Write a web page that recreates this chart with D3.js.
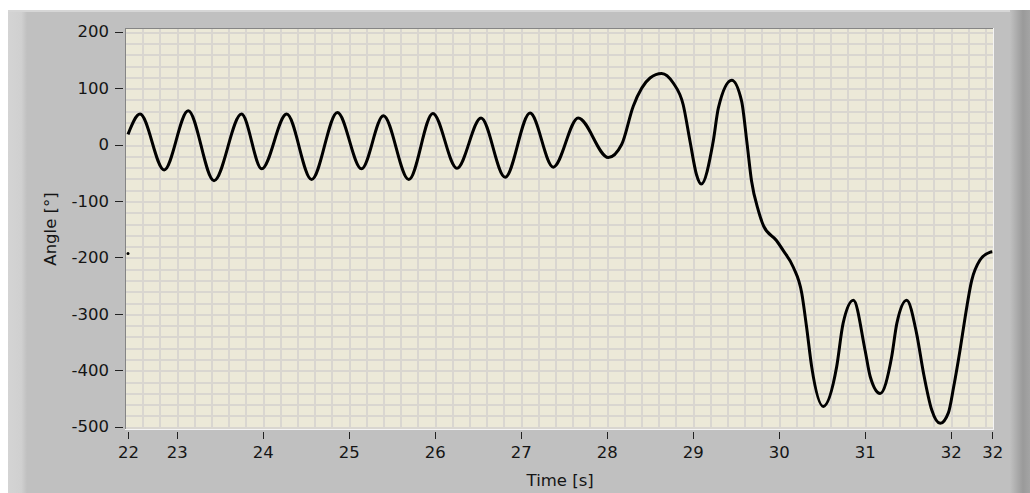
<!DOCTYPE html>
<html>
<head>
<meta charset="utf-8">
<script src="https://cdn.jsdelivr.net/npm/d3@7"></script>
<style>
  body { margin: 0; background: #ffffff; }
  svg text { font-family: "DejaVu Sans", sans-serif; font-size: 16.5px; fill: #151515; }
</style>
</head>
<body>
<div id="chart"></div>
<script>
// Values
var timeValues = [22.00, 22.14, 22.42, 22.70, 23.00, 23.32, 23.555, 23.845, 24.135, 24.435,
  24.715, 24.97, 25.265, 25.545, 25.825, 26.105, 26.385, 26.675, 26.945, 27.235,
  27.585, 27.74, 27.875, 28.07, 28.205, 28.34, 28.455, 28.535, 28.61, 28.665,
  28.805, 28.865, 29.02, 29.135, 29.195, 29.25, 29.33, 29.39, 29.54, 29.62,
  29.735, 29.835, 29.89, 29.95, 30.085, 30.24, 30.315, 30.435, 30.57, 30.63,
  30.745, 30.88, 30.94, 31.055, 31.17, 31.25, 31.345, 31.445, 31.54, 31.60,
  31.675, 31.735, 31.81, 31.905, 32.02, 32.05];
var angleValues = [18, 54, -45, 60, -64, 54, -43, 54, -62, 57,
  -43, 51, -62, 55, -42, 47, -58, 56, -40, 47,
  -23, 0, 68, 118, 126, 109, 71, 6, -53, -70,
  6, 65, 114, 77, 6, -64, -117, -144, -170, -188,
  -217, -264, -323, -394, -464, -394, -317, -276, -364, -411,
  -441, -376, -317, -276, -335, -405, -470, -494, -475, -430,
  -364, -305, -241, -205, -191, -190];

// lone point drawn at the left edge of the plot
var strayTime = [22.0];
var strayAngle = [-193];

var xTickValues = [22, 22.566, 23.566, 24.566, 25.566, 26.566, 27.566, 28.566, 29.566, 30.566, 31.566, 32.05];
var xTickLabels = ["22", "23", "24", "25", "26", "27", "28", "29", "30", "31", "32", "32"];
var yTickValues = [200, 100, 0, -100, -200, -300, -400, -500];
var yTickLabels = ["200", "100", "0", "-100", "-200", "-300", "-400", "-500"];

var svgWidth = 1030;
var svgHeight = 493;

// plot area in pixels
var plot = { left: 126, right: 993, top: 29, bottom: 429 };

var svg = d3.select("#chart")
  .append("svg")
  .attr("width", svgWidth)
  .attr("height", svgHeight);

var defs = svg.append("defs");
var rightGrad = defs.append("linearGradient").attr("id", "rightEdge");
rightGrad.append("stop").attr("offset", "0%").attr("stop-color", "#c0c0c0");
rightGrad.append("stop").attr("offset", "65%").attr("stop-color", "#9a9a9a");
rightGrad.append("stop").attr("offset", "100%").attr("stop-color", "#a4a4a4");
var leftGrad = defs.append("linearGradient").attr("id", "leftEdge");
leftGrad.append("stop").attr("offset", "0%").attr("stop-color", "#d4d4d4");
leftGrad.append("stop").attr("offset", "70%").attr("stop-color", "#d0d0d0");
leftGrad.append("stop").attr("offset", "100%").attr("stop-color", "#c0c0c0");

defs.append("clipPath").attr("id", "plotClip")
  .append("rect")
  .attr("x", plot.left)
  .attr("y", plot.top)
  .attr("width", plot.right - plot.left)
  .attr("height", plot.bottom - plot.top);

// panel background
svg.append("rect").attr("x", 8).attr("y", 10).attr("width", svgWidth - 8).attr("height", svgHeight - 10)
  .attr("fill", "#c0c0c0");
svg.append("rect").attr("x", 8).attr("y", 10).attr("width", 19).attr("height", svgHeight - 10)
  .attr("fill", "url(#leftEdge)");
svg.append("rect").attr("x", 8).attr("y", 10).attr("width", svgWidth - 8).attr("height", 2)
  .attr("fill", "#d6d6d6");
svg.append("rect").attr("x", 1010).attr("y", 10).attr("width", 20).attr("height", svgHeight - 10)
  .attr("fill", "url(#rightEdge)");

// scales
var xScale = d3.scaleLinear()
  .domain([22, 32.05])
  .range([128, 992.3]);

var yScale = d3.scaleLinear()
  .domain([-500, 200])
  .range([426.7, 31.7]);

// plot background
svg.append("rect")
  .attr("x", plot.left)
  .attr("y", plot.top)
  .attr("width", plot.right - plot.left)
  .attr("height", plot.bottom - plot.top)
  .attr("fill", "#ece9d8");

// grid: minor every 0.2 s aligned with ticks, every 20 degrees
var xGrid = d3.range(-3, 50).map(k => xTickValues[1] + k * 0.2)
  .filter(v => xScale(v) > plot.left + 1 && xScale(v) < plot.right - 1);
var yGrid = d3.range(-500, 201, 20);

var gridGroup = svg.append("g").attr("shape-rendering", "crispEdges");
gridGroup.selectAll(".vgrid")
  .data(xGrid)
  .enter()
  .append("line")
  .attr("x1", d => Math.round(xScale(d)) + 0.5)
  .attr("x2", d => Math.round(xScale(d)) + 0.5)
  .attr("y1", plot.top)
  .attr("y2", plot.bottom)
  .attr("stroke", "#d9d6d0")
  .attr("stroke-width", 2);

gridGroup.selectAll(".hgrid")
  .data(yGrid)
  .enter()
  .append("line")
  .attr("x1", plot.left)
  .attr("x2", plot.right)
  .attr("y1", d => Math.round(yScale(d)) + 0.5)
  .attr("y2", d => Math.round(yScale(d)) + 0.5)
  .attr("stroke", "#d9d6d0")
  .attr("stroke-width", 2);

// sunken border
var border = svg.append("g").attr("shape-rendering", "crispEdges");
border.append("line").attr("x1", plot.left - 1).attr("x2", plot.right).attr("y1", plot.top - 0.5).attr("y2", plot.top - 0.5)
  .attr("stroke", "#858585").attr("stroke-width", 1);
border.append("line").attr("x1", plot.left - 0.5).attr("x2", plot.left - 0.5).attr("y1", plot.top - 1).attr("y2", plot.bottom)
  .attr("stroke", "#858585").attr("stroke-width", 1);
border.append("line").attr("x1", plot.left - 1).attr("x2", plot.right + 1).attr("y1", plot.bottom + 0.5).attr("y2", plot.bottom + 0.5)
  .attr("stroke", "#f4f4f4").attr("stroke-width", 1);
border.append("line").attr("x1", plot.right + 0.5).attr("x2", plot.right + 0.5).attr("y1", plot.top - 1).attr("y2", plot.bottom + 1)
  .attr("stroke", "#f4f4f4").attr("stroke-width", 1);

// axes
var bottomAxis = d3.axisBottom(xScale)
  .tickValues(xTickValues)
  .tickFormat((d, i) => xTickLabels[i])
  .tickSize(7)
  .tickPadding(7);

var leftAxis = d3.axisLeft(yScale)
  .tickValues(yTickValues)
  .tickFormat((d, i) => yTickLabels[i])
  .tickSize(8)
  .tickPadding(6);

var xAxisGroup = svg.append("g")
  .attr("transform", "translate(0, 432)")
  .call(bottomAxis);
xAxisGroup.select(".domain").remove();
xAxisGroup.selectAll("line").attr("stroke", "#222").attr("shape-rendering", "crispEdges");
xAxisGroup.selectAll("text").attr("font-family", null).attr("font-size", null);

var yAxisGroup = svg.append("g")
  .attr("transform", "translate(123, 0)")
  .call(leftAxis);
yAxisGroup.select(".domain").remove();
yAxisGroup.selectAll("line").attr("stroke", "#222").attr("shape-rendering", "crispEdges");
yAxisGroup.selectAll("text").attr("font-family", null).attr("font-size", null);

// data line
var lineData = timeValues.map((t, i) => ({ t: t, a: angleValues[i] }));
var line = d3.line()
  .x(d => xScale(d.t))
  .y(d => yScale(d.a))
  .curve(d3.curveMonotoneX);

var dataGroup = svg.append("g").attr("clip-path", "url(#plotClip)");
dataGroup.append("path")
  .datum(lineData)
  .attr("d", line)
  .attr("fill", "none")
  .attr("stroke", "#000")
  .attr("stroke-width", 3)
  .attr("stroke-linejoin", "round");

dataGroup.selectAll(".stray")
  .data(strayTime)
  .enter()
  .append("circle")
  .attr("cx", d => xScale(d))
  .attr("cy", (d, i) => yScale(strayAngle[i]))
  .attr("r", 1.5)
  .attr("fill", "#000");

// axis titles
svg.append("text")
  .attr("x", (xScale.range()[0] + xScale.range()[1]) / 2)
  .attr("y", 486)
  .attr("text-anchor", "middle")
  .text("Time [s]");

svg.append("text")
  .attr("transform", `translate(56, ${(plot.top + plot.bottom) / 2}) rotate(-90)`)
  .attr("text-anchor", "middle")
  .text("Angle [°]");
</script>
</body>
</html>
